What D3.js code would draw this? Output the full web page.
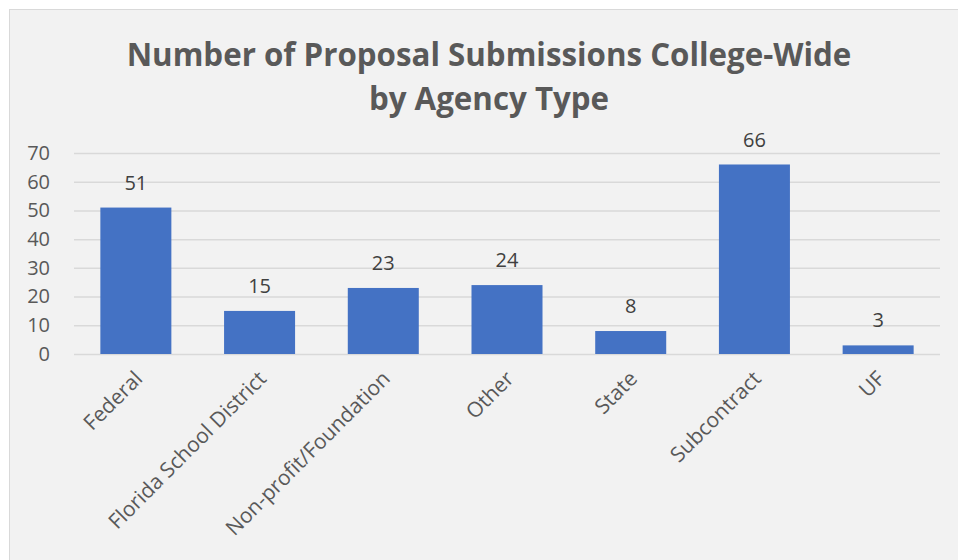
<!DOCTYPE html>
<html>
<head>
<meta charset="utf-8">
<script src="https://cdn.jsdelivr.net/npm/d3@7"></script>
<style>
  body { margin: 0; background: #ffffff; }
  text { font-family: "Open Sans", "Noto Sans", sans-serif; }
</style>
</head>
<body>
<div id="chart"></div>
<script>
// Chart data
var categories = ["Federal", "Florida School District", "Non-profit/Foundation", "Other", "State", "Subcontract", "UF"];
var submissions = [51, 15, 23, 24, 8, 66, 3];
var yTicks = [0, 10, 20, 30, 40, 50, 60, 70];
var titleLines = ["Number of Proposal Submissions College-Wide", "by Agency Type"];

var width = 958;
var height = 560;

var margin = { top: 153, left: 74, right: 18, bottom: 206 };

var svg = d3.select("#chart")
  .append("svg")
  .attr("width", width)
  .attr("height", height);

// chart area background + border
svg.append("rect")
  .attr("x", 9.5)
  .attr("y", 9.5)
  .attr("width", width)
  .attr("height", height)
  .attr("fill", "#f2f2f2")
  .attr("stroke", "#d9d9d9");

var plotW = width - margin.left - margin.right;
var plotH = height - margin.top - margin.bottom;

var g = svg.append("g")
  .attr("transform", "translate(" + margin.left + "," + margin.top + ")");

var x_scale = d3.scaleBand()
  .domain(categories)
  .range([0, plotW])
  .paddingInner(0.426)
  .paddingOuter(0.213);

var y_scale = d3.scaleLinear()
  .domain([0, 70])
  .range([plotH, 0]);

// gridlines
g.append("g")
  .attr("class", "grid")
  .call(d3.axisLeft(y_scale).tickValues(yTicks).tickSize(-plotW).tickFormat(""))
  .call(function(s) { s.select(".domain").remove(); })
  .selectAll("line")
  .attr("stroke", "#d9d9d9")
  .attr("stroke-width", 1.5);

// y axis labels
g.append("g")
  .call(d3.axisLeft(y_scale).tickValues(yTicks).tickSize(0).tickPadding(24))
  .call(function(s) { s.select(".domain").remove(); })
  .selectAll("text")
  .attr("fill", "#595959")
  .style("font-size", "20px")
  .style("font-family", "'Open Sans', sans-serif");

// bars
g.selectAll("rect.bar")
  .data(submissions)
  .enter()
  .append("rect")
  .attr("class", "bar")
  .attr("x", function(d, i) { return x_scale(categories[i]); })
  .attr("width", x_scale.bandwidth())
  .attr("y", function(d) { return y_scale(d); })
  .attr("height", function(d) { return plotH - y_scale(d); })
  .attr("fill", "#4472c4");

// value labels
g.selectAll("text.label")
  .data(submissions)
  .enter()
  .append("text")
  .attr("class", "label")
  .attr("x", function(d, i) { return x_scale(categories[i]) + x_scale.bandwidth() / 2; })
  .attr("y", function(d) { return y_scale(d) - 18; })
  .attr("text-anchor", "middle")
  .attr("fill", "#404040")
  .style("font-size", "20px")
  .text(function(d) { return d; });

// x axis labels, rotated
var xaxis = g.append("g")
  .attr("transform", "translate(0," + plotH + ")")
  .call(d3.axisBottom(x_scale).tickSize(0))
  .call(function(s) { s.select(".domain").remove(); });

xaxis.selectAll("text")
  .attr("fill", "#595959")
  .style("font-size", "21px")
  .style("font-family", "'Open Sans', sans-serif")
  .attr("text-anchor", "end")
  .attr("dy", 0)
  .attr("y", 0)
  .attr("transform", "translate(8,26) rotate(-45)");

// title
var title = svg.append("text")
  .attr("text-anchor", "middle")
  .attr("fill", "#595959")
  .style("font-weight", "bold")
  .style("font-size", "30px");

title.selectAll("tspan")
  .data(titleLines)
  .enter()
  .append("tspan")
  .attr("x", 489)
  .attr("y", function(d, i) { return 66 + i * 44; })
  .text(function(d) { return d; });

// squeeze the title to Calibri-like width
var firstLine = title.select("tspan").node();
var w = firstLine.getComputedTextLength();
title.style("font-size", (30 * 725 / w) + "px");
</script>
</body>
</html>
